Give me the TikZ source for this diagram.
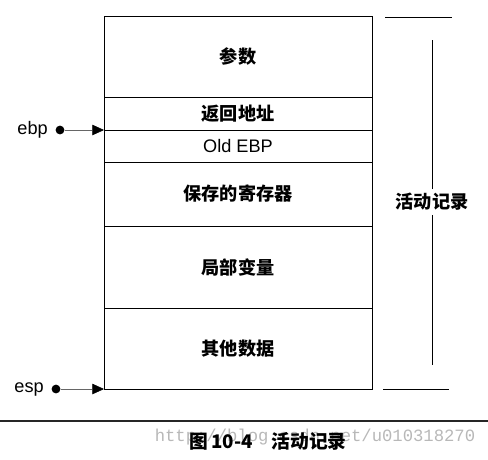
\documentclass[tikz,border=0pt]{standalone}
\usepackage{fontspec}
\setmainfont{Liberation Sans}
\newfontfamily\cjk{Noto Sans CJK SC}
\newfontfamily\wmfont{Liberation Mono}
\usetikzlibrary{positioning,calc,arrows.meta}

\begin{document}
\begin{tikzpicture}[x=0.03cm,y=-0.03cm,font=\fontsize{15.5}{18}\selectfont,
  slot/.style={draw,line width=0.6pt,minimum width=8.04cm,outer sep=0pt,inner sep=0pt},
  zh/.style={font=\fontsize{15.5}{18}\selectfont\cjk\bfseries},
  ptr/.style={black!60,line width=0.5pt,-{Triangle[length=10pt,width=9pt,black]}},
  ptrdot/.style={circle,fill,inner sep=0pt,minimum size=7.5pt}]
  \useasboundingbox (0,0) rectangle (488,459);
  % stack frame slots
  \node[slot,zh,minimum height=2.43cm,anchor=north] (args) at (238,16) {参数};
  \node[slot,zh,minimum height=0.99cm,below=0pt of args] (ret) {返回地址};
  \node[slot,minimum height=0.96cm,below=0pt of ret] (oldebp) {Old EBP};
  \node[slot,zh,minimum height=1.92cm,below=0pt of oldebp] (saved) {保存的寄存器};
  \node[slot,zh,minimum height=2.46cm,below=0pt of saved] (locals) {局部变量};
  \node[slot,zh,minimum height=2.43cm,below=0pt of locals] (other) {其他数据};
  % register pointers
  \node[ptrdot] (ebpdot) at ($(ret.south west)+(-44,0)$) {};
  \node[left=3pt of ebpdot] (ebp) {ebp};
  \draw[ptr] (ebpdot) -- (ret.south west);
  \node[ptrdot] (espdot) at ($(other.south west)+(-48,0)$) {};
  \node[left=3pt of espdot] (esp) {esp};
  \draw[ptr] (espdot) -- (other.south west);
  % extent of the record
  \node[zh] (frame) at (432,202) {活动记录};
  \coordinate (spantop) at (432,40);
  \coordinate (spanbot) at (432,365);
  \draw[line width=0.6pt] (385,17) -- (452,17);
  \draw[line width=0.6pt] (383,389) -- (449,389);
  \draw[line width=0.6pt] (frame.north) -- (spantop);
  \draw[line width=0.6pt] (frame.south) -- (spanbot);
  % caption
  \draw[line width=1.4pt,black!85] (0,421) -- (488,421);
  \node[text=black!28,font=\fontsize{14.7}{16}\wmfont] (wm) at (315,437) {http://blog.csdn.net/u010318270};
  \node[font=\fontsize{16}{18}\selectfont\cjk\bfseries] (cap) at (268,441) {图\,10-4\quad 活动记录};
\end{tikzpicture}
\end{document}
